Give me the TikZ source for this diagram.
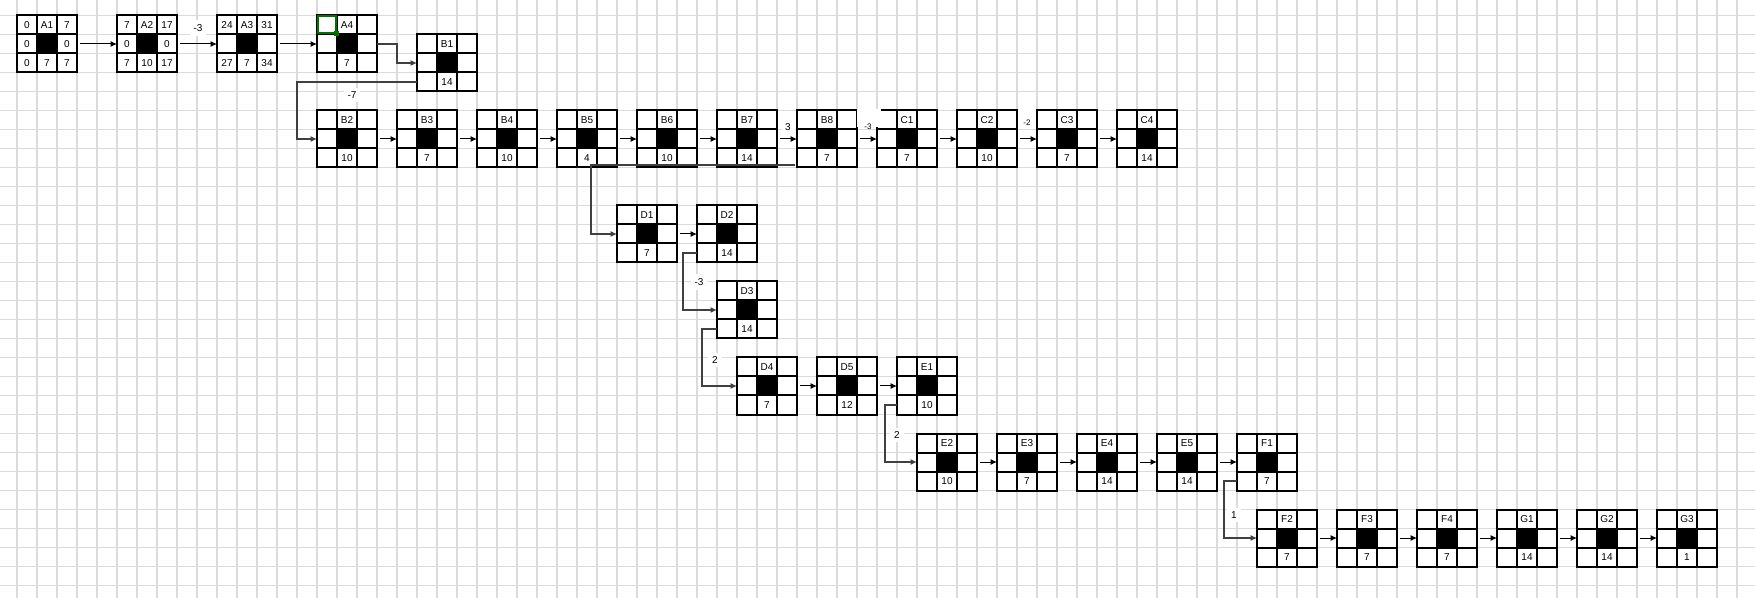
\documentclass[tikz,border=0pt]{standalone}
\usepackage{fontspec}
\setmainfont{Liberation Sans}
\usetikzlibrary{arrows.meta,calc}
\tikzset{
  x=0.5pt,y=-0.5pt,
  blkbox/.style={draw=none,minimum width=30pt,minimum height=28.5pt,inner sep=0pt,outer sep=0pt},
  bl/.style={line width=1pt,black},
  txt/.style={inner sep=0pt,font=\fontsize{5}{6}\selectfont},
  lbl/.style={fill=white,inner sep=2pt,font=\fontsize{5}{6}\selectfont},
  slbl/.style={inner sep=0pt,font=\fontsize{4}{5}\selectfont},
  arr/.style={line width=0.5pt,-{Latex[length=3.2pt,width=3pt]},shorten <=1.5pt},
  elb/.style={line width=0.6pt,black!75,-{Latex[length=3.2pt,width=3pt]}},
}
\newcommand\blk[5]{%
  \pgfmathsetmacro\bx{17+20*#2}\pgfmathsetmacro\by{15.5+19*#3}%
  \node[blkbox,anchor=north west] (#1) at (\bx,\by) {};
  \fill[white] (\bx,\by) rectangle ++(60,57);
  \fill[black] (\bx+20,\by+19) rectangle ++(20,19);
  \draw[bl] (\bx,\by) rectangle ++(60,57);
  \draw[bl] (\bx+20,\by) -- ++(0,57) (\bx+40,\by) -- ++(0,57)
            (\bx,\by+19) -- ++(60,0) (\bx,\by+38) -- ++(60,0);
  \node[txt] at (\bx+30,\by+10) {#4};
  \node[txt] at (\bx+30,\by+48) {#5};
  \coordinate (#1-bl) at (\bx,\by+47.5);
}
\begin{document}
\begin{tikzpicture}
\useasboundingbox (0,0) rectangle (1755,598);
\fill[white] (0,0) rectangle (1755,598);
% grid
\foreach \k in {0,...,86} \draw[line width=0.6pt,black!14] ({17+20*\k},0) -- ({17+20*\k},598);
\foreach \k in {0,...,30} \draw[line width=0.6pt,black!14] (0,{15.5+19*\k}) -- (1755,{15.5+19*\k});
% blocks
\blk{A1}{0}{0}{A1}{7}
\blk{A2}{5}{0}{A2}{10}
\blk{A3}{10}{0}{A3}{7}
\blk{A4}{15}{0}{A4}{7}
\blk{B1}{20}{1}{B1}{14}
\blk{B2}{15}{5}{B2}{10}
\blk{B3}{19}{5}{B3}{7}
\blk{B4}{23}{5}{B4}{10}
\blk{B5}{27}{5}{B5}{4}
\blk{B6}{31}{5}{B6}{10}
\blk{B7}{35}{5}{B7}{14}
\blk{B8}{39}{5}{B8}{7}
\blk{C1}{43}{5}{C1}{7}
\blk{C2}{47}{5}{C2}{10}
\blk{C3}{51}{5}{C3}{7}
\blk{C4}{55}{5}{C4}{14}
\blk{D1}{30}{10}{D1}{7}
\blk{D2}{34}{10}{D2}{14}
\blk{D3}{35}{14}{D3}{14}
\blk{D4}{36}{18}{D4}{7}
\blk{D5}{40}{18}{D5}{12}
\blk{E1}{44}{18}{E1}{10}
\blk{E2}{45}{22}{E2}{10}
\blk{E3}{49}{22}{E3}{7}
\blk{E4}{53}{22}{E4}{14}
\blk{E5}{57}{22}{E5}{14}
\blk{F1}{61}{22}{F1}{7}
\blk{F2}{62}{26}{F2}{7}
\blk{F3}{66}{26}{F3}{7}
\blk{F4}{70}{26}{F4}{7}
\blk{G1}{74}{26}{G1}{14}
\blk{G2}{78}{26}{G2}{14}
\blk{G3}{82}{26}{G3}{1}
% corner numbers
\foreach \c/\a/\b/\cc/\d/\e/\f in {0/0/7/0/0/0/7, 5/7/17/0/0/7/17, 10/24/31///27/34}{
  \node[txt] at ({17+20*\c+10},25.5) {\a};
  \node[txt] at ({17+20*\c+50},25.5) {\b};
  \node[txt] at ({17+20*\c+10},44.5) {\cc};
  \node[txt] at ({17+20*\c+50},44.5) {\d};
  \node[txt] at ({17+20*\c+10},63.5) {\e};
  \node[txt] at ({17+20*\c+50},63.5) {\f};
}
% selection cursor in A4
\draw[line width=1pt,green!45!black] (318,16.5) rectangle (336,33.5);
\fill[green!45!black] (334,31.5) rectangle (339,36.5);
% straight arrows
\foreach \p/\q in {A1/A2,A2/A3,A3/A4,B2/B3,B3/B4,B4/B5,B5/B6,B6/B7,B7/B8,B8/C1,C1/C2,C2/C3,C3/C4,
  D1/D2,D4/D5,D5/E1,E2/E3,E3/E4,E4/E5,E5/F1,F2/F3,F3/F4,F4/G1,G1/G2,G2/G3}
  \draw[arr] (\p.east) -- (\q.west);
% elbow connectors
\draw[elb] (A4.east) -- ++(20,0) |- (B1.west);
\draw[elb] (B1-bl) -- ++(-120,0) |- (B2.west);
\coordinate (k1) at (795,165);
\coordinate (k2) at (591,165);
\draw[elb] (k1) -- (k2) |- (D1.west);
\draw[elb] (D2-bl) -- ++(-14,0) |- (D3.west);
\draw[elb] (D3-bl) -- ++(-15,0) |- (D4.west);
\draw[elb] (E1-bl) -- ++(-12,0) |- (E2.west);
\draw[elb] (F1-bl) -- ++(-13,0) |- (F2.west);
% labels
\node[lbl] (l1) at (198,28) {-3};
\node[lbl] (l2) at (352,95) {-7};
\node[lbl] (l3) at (788,127) {3};
\fill[white] (857,109) rectangle (881,127);
\node[slbl] (l4) at (868,127) {-3};
\fill[white] (1018,109) rectangle (1036,127);
\node[slbl] (l5) at (1027,123) {-2};
\node[lbl] (l6) at (699,282) {-3};
\node[lbl] (l7) at (715,360) {2};
\node[lbl] (l8) at (897,435) {2};
\node[lbl] (l9) at (1234,515) {1};
\end{tikzpicture}
\end{document}
